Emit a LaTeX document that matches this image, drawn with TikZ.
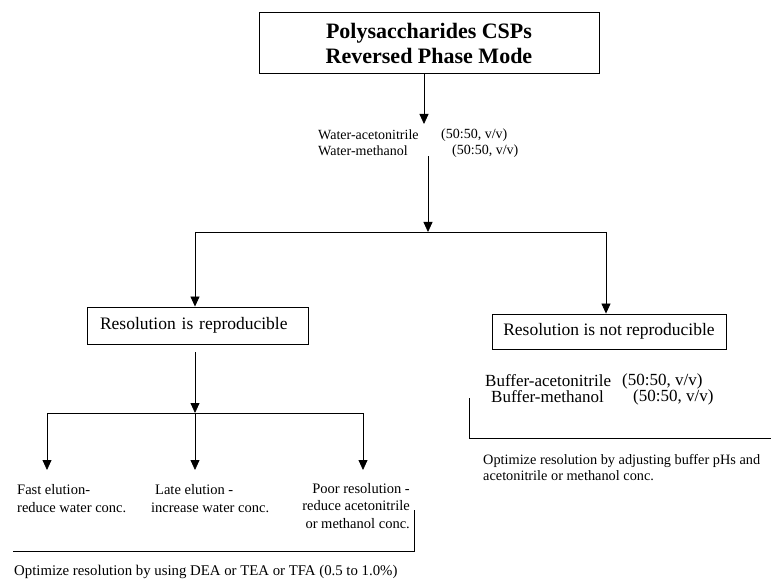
\documentclass[tikz,border=0pt]{standalone}
\usepackage{fontspec}
\setmainfont{Liberation Serif}
\usetikzlibrary{arrows.meta}
\begin{document}
\begin{tikzpicture}[x=1pt,y=-1pt,
  box/.style={draw,line width=0.9pt,inner sep=0pt},
  arr/.style={line width=0.8pt,-{Triangle[length=10pt,width=9pt]}},
  ln/.style={line width=0.8pt},
  txt/.style={inner sep=0pt,font=\fontsize{14.5}{17.5}\selectfont},
  mid/.style={inner sep=0pt,font=\fontsize{14}{16}\selectfont},
  big/.style={inner sep=0pt,font=\fontsize{17.5}{18}\selectfont}]
\useasboundingbox (0,0) rectangle (771,580);
% top
\node[box,minimum width=340pt,minimum height=61pt,align=center,
  font=\fontsize{22}{25}\selectfont\bfseries] (top) at (429,42.5)
  {\rule{0pt}{17pt}Polysaccharides CSPs\\Reversed Phase Mode};
% water block
\node[mid,anchor=west] (water1) at (318,135) {Water-acetonitrile};
\node[mid,anchor=west] (water1r) at (441,135) {(50:50, v/v)};
\node[mid,anchor=west] (water2) at (318,151) {Water-methanol};
\node[mid,anchor=west] (water2r) at (452,151) {(50:50, v/v)};
\coordinate (j1) at (424,124);
\draw[arr] (top.south -| j1) -- (j1);
\coordinate (jt) at (428,232);
\draw[arr] (water2.south -| jt) -- (jt);
% split
\coordinate (jl) at (195,232);
\coordinate (jr) at (606,232);
\draw[ln] (jl) -- (jr);
\node[big,box,minimum height=37pt,inner xsep=13pt,text width=195pt,align=left] (repro) at (197.5,325.5)
  {Resolution is reproducible};
\node[big,box,minimum width=234pt,minimum height=35pt] (notrepro) at (609,331.5)
  {Resolution is not reproducible};
\draw[arr] (jl) -- (repro.north -| jl);
\draw[arr] (jr) -- (notrepro.north -| jr);
% right branch
\node[big,anchor=west,font=\fontsize{17}{18}\selectfont] (buf1) at (485,381) {Buffer-acetonitrile};
\node[big,anchor=west,font=\fontsize{17}{18}\selectfont] (buf1r) at (622,381) {(50:50, v/v)};
\node[big,anchor=west,font=\fontsize{17}{18}\selectfont] (buf2) at (491,397) {Buffer-methanol};
\node[big,anchor=west,font=\fontsize{17}{18}\selectfont] (buf2r) at (633,397) {(50:50, v/v)};
\coordinate (br1) at (469,398);
\coordinate (br2) at (469,438);
\coordinate (br3) at (771,438);
\draw[ln] (br1) -- (br2) -- (br3);
\node[inner sep=0pt,anchor=west,align=left,font=\fontsize{14.3}{16}\selectfont] (optr) at (483,467.5)
  {Optimize resolution by adjusting buffer pHs and\\acetonitrile or methanol conc.};
% left branch
\coordinate (jb) at (195,413);
\draw[arr,shorten <=8pt] (repro.south -| jb) -- (jb);
\coordinate (fl) at (47,413);
\coordinate (pr) at (363,413);
\draw[ln] (fl) -- (pr);
\coordinate (tf) at (47,470);
\coordinate (tl) at (195,470);
\coordinate (tp) at (363,470);
\draw[arr] (fl) -- (tf);
\draw[arr] (jb) -- (tl);
\draw[arr] (pr) -- (tp);
\node[txt,anchor=west,align=left] (fast) at (17,498.5) {Fast elution-\\reduce water conc.};
\node[txt,anchor=west,align=left] (late) at (151,498.5) {\hspace*{4pt}Late elution -\\increase water conc.};
\node[txt,anchor=north east,align=right] (poor) at (410,483) {Poor resolution -\\reduce acetonitrile\\or methanol conc.};
\coordinate (bl1) at (414,510);
\coordinate (bl2) at (414,551);
\coordinate (bl3) at (13,551);
\draw[ln] (bl1) -- (bl2) -- (bl3);
\node[inner sep=0pt,anchor=west,font=\fontsize{14.8}{17}\selectfont] (optl) at (14,572)
  {Optimize resolution by using DEA or TEA or TFA (0.5 to 1.0\%)};
\end{tikzpicture}
\end{document}
